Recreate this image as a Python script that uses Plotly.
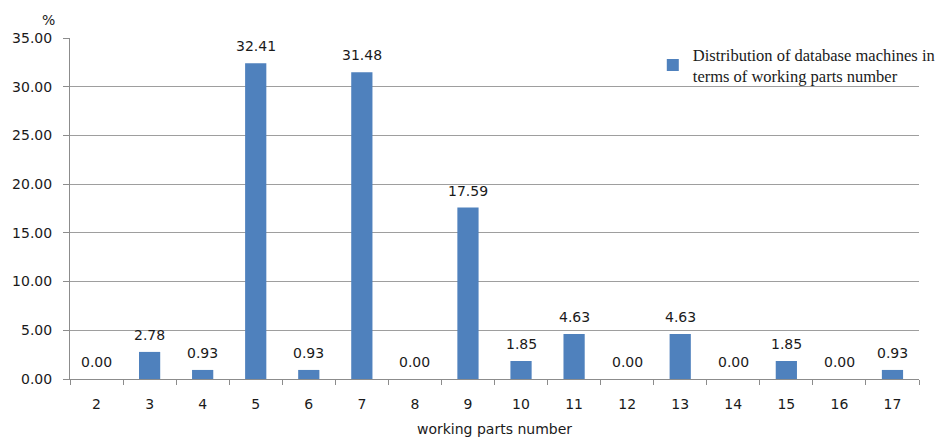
import plotly.graph_objects as go

categories = ["2", "3", "4", "5", "6", "7", "8", "9", "10", "11", "12", "13", "14", "15", "16", "17"]
values = [0.00, 2.78, 0.93, 32.41, 0.93, 31.48, 0.00, 17.59, 1.85, 4.63, 0.00, 4.63, 0.00, 1.85, 0.00, 0.93]
y_ticks = [0, 5, 10, 15, 20, 25, 30, 35]
series_name = "Distribution of database machines in<br>terms of working parts number"

FONT = "DejaVu Sans"
TXT = "#1a1a1a"

fig = go.Figure()
fig.add_trace(go.Bar(
    x=categories, y=values, name=series_name,
    marker=dict(color="#4F81BD", line=dict(width=0)),
    width=0.4,
    showlegend=True,
))

# category axis: annotation x given as category index
annotations = [
    dict(x=i, y=v, xref="x", yref="y", text=f"{v:.2f}", showarrow=False,
         xanchor="center", yanchor="bottom", yshift=7,
         font=dict(family=FONT, size=14, color=TXT))
    for i, v in enumerate(values)
]
annotations.append(dict(
    text="%", xref="paper", yref="paper", x=0, y=1, xshift=-22, yshift=18,
    showarrow=False, xanchor="center", yanchor="middle",
    font=dict(family=FONT, size=14, color=TXT),
))

fig.update_layout(
    width=952, height=438,
    margin=dict(l=70, r=24, t=38, b=59),
    paper_bgcolor="white", plot_bgcolor="white",
    font=dict(family=FONT, size=14, color=TXT),
    showlegend=True,
    legend=dict(
        x=1.0245, y=1.003, xanchor="right", yanchor="top",
        font=dict(family="Liberation Serif", size=16.5, color=TXT),
        bgcolor="rgba(255,255,255,0)",
        itemwidth=30,
    ),
    xaxis=dict(
        type="category", automargin=False,
        range=[-0.5, len(categories) - 0.5],
        showline=True, linecolor="#8c8c8c", linewidth=1,
        ticks="outside", tickson="boundaries", ticklen=5, tickcolor="#8c8c8c",
        showgrid=False,
        ticklabelstandoff=12,
        title=dict(text="working parts number", font=dict(size=14), standoff=13),
        tickfont=dict(size=14),
    ),
    yaxis=dict(
        range=[0, 35], tickvals=y_ticks, automargin=False,
        ticktext=[f"{v:.2f}" for v in y_ticks],
        showline=True, linecolor="#8c8c8c", linewidth=1,
        ticks="outside", ticklen=6, tickcolor="#8c8c8c",
        showgrid=True, gridcolor="#9e9e9e", gridwidth=1,
        zeroline=False,
        ticklabelstandoff=8,
        tickfont=dict(size=14),
    ),
    annotations=annotations,
)

fig.write_html("out.html", config={"displayModeBar": False},
               post_script="document.body.style.margin='0';document.body.style.overflow='hidden';")
